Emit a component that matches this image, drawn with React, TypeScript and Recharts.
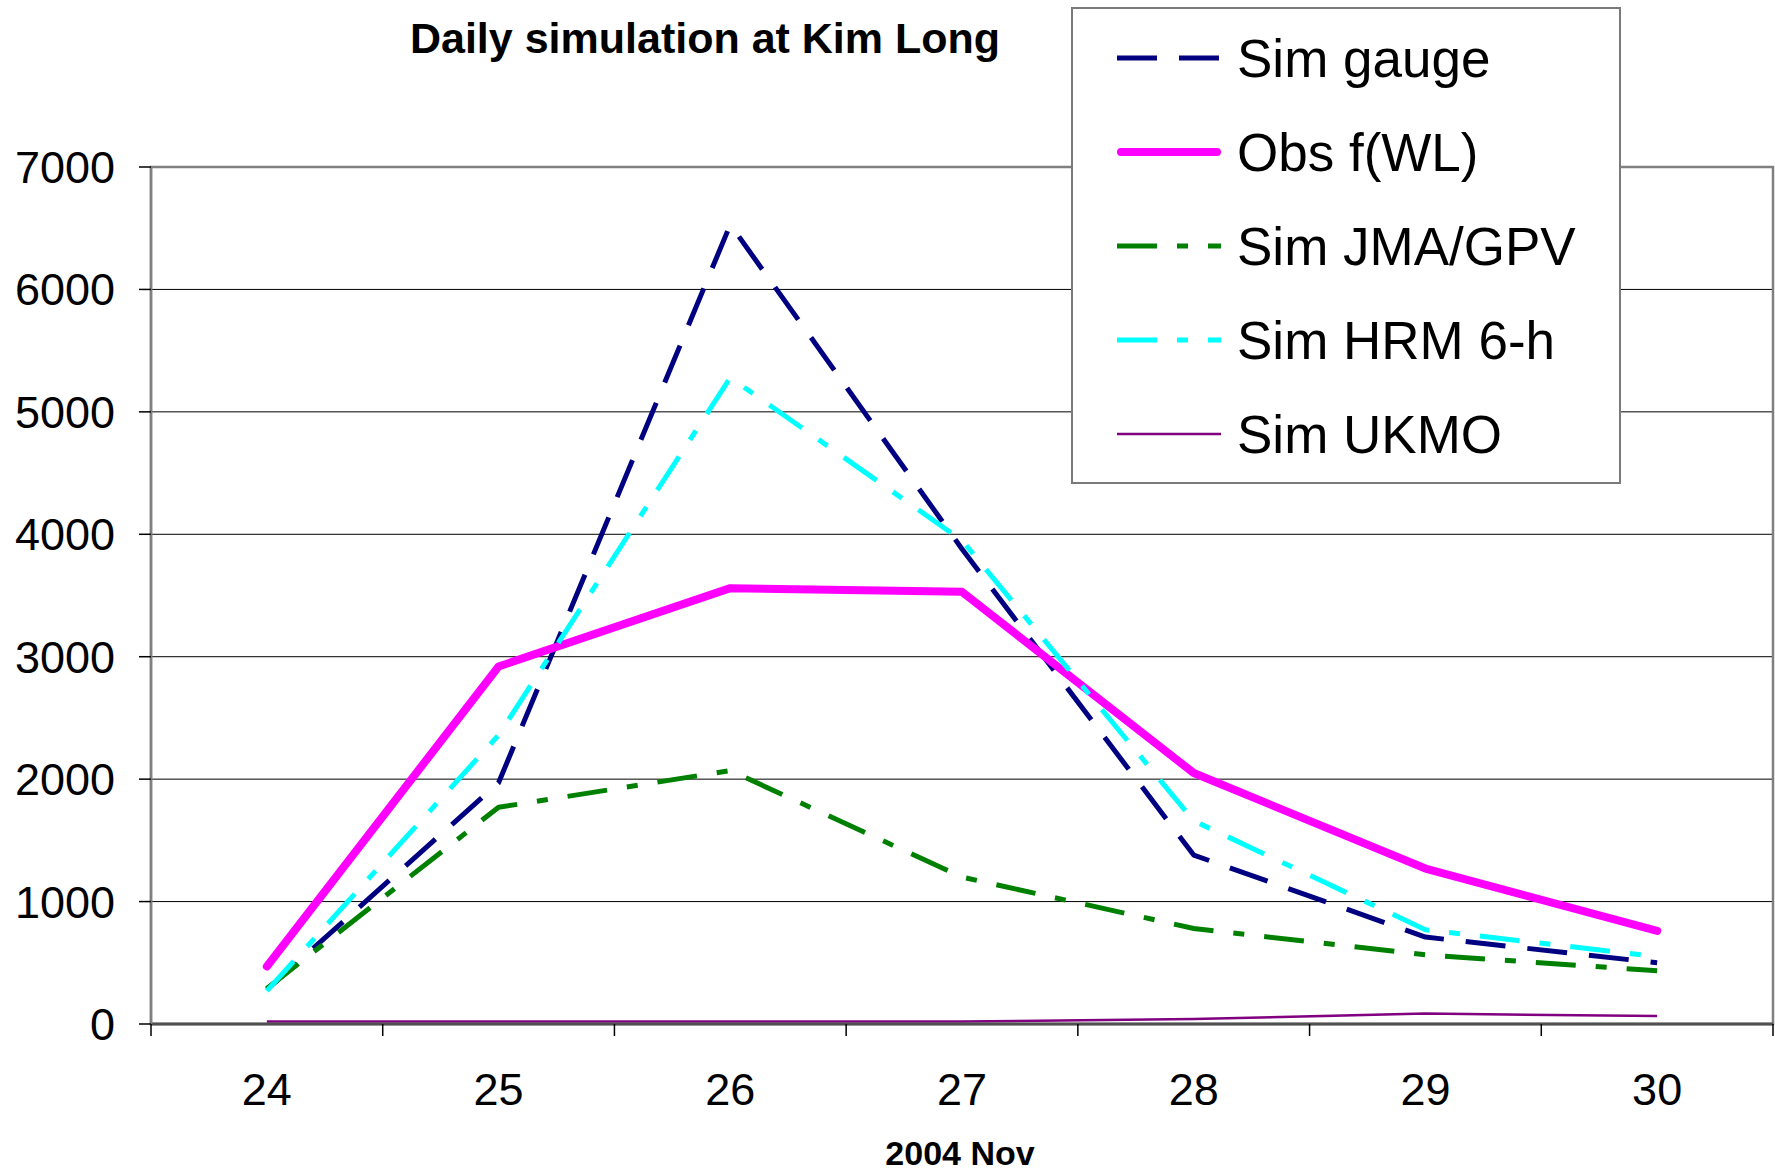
import React from 'react';
import {
  LineChart,
  Line,
  XAxis,
  YAxis,
  CartesianGrid,
  Legend,
  ReferenceArea,
} from 'recharts';

const DAYS = [24, 25, 26, 27, 28, 29, 30];
const SIM_GAUGE = [280, 1970, 6530, 3880, 1380, 710, 500];
const OBS_WL = [470, 2920, 3560, 3530, 2050, 1270, 760];
const SIM_JMA = [290, 1770, 2070, 1200, 780, 565, 435];
const SIM_HRM = [270, 2360, 5280, 3950, 1660, 770, 550];
const SIM_UKMO = [20, 20, 20, 20, 40, 85, 65];

const Y_TICKS = [0, 1000, 2000, 3000, 4000, 5000, 6000, 7000];
// day labels sit on the integers, tick marks on the half-days between them
const X_TICKS = [23.5, 24, 24.5, 25, 25.5, 26, 26.5, 27, 27.5, 28, 28.5, 29, 29.5, 30, 30.5];

const data = DAYS.map((d, i) => ({
  day: d,
  gauge: SIM_GAUGE[i],
  obs: OBS_WL[i],
  jma: SIM_JMA[i],
  hrm: SIM_HRM[i],
  ukmo: SIM_UKMO[i],
}));

const SERIES = [
  { key: 'gauge', name: 'Sim gauge', color: '#000080', width: 5, dash: '40 22' },
  { key: 'obs', name: 'Obs f(WL)', color: '#ff00ff', width: 8, dash: undefined },
  { key: 'jma', name: 'Sim JMA/GPV', color: '#008000', width: 5, dash: '40 20 11 20' },
  { key: 'hrm', name: 'Sim HRM 6-h', color: '#00ffff', width: 5, dash: '40 20 11 20' },
  { key: 'ukmo', name: 'Sim UKMO', color: '#800080', width: 2.5, dash: undefined },
];

const FONT = '"Liberation Sans", Arial, sans-serif';

const DayTick = (props: any) => {
  const { x, y, payload } = props;
  if (Number.isInteger(payload.value)) {
    return (
      <text x={x} y={y + 69} textAnchor="middle" fontSize={45} fontFamily={FONT} fill="#000">
        {payload.value}
      </text>
    );
  }
  return <line x1={x} x2={x} y1={y - 12} y2={y} stroke="#000" strokeWidth={1.5} />;
};

const LegendBox = () => (
  <div
    style={{
      width: 550,
      height: 477,
      border: '2px solid #7a7a7a',
      background: '#fff',
      boxSizing: 'border-box',
      paddingTop: 2,
      fontFamily: FONT,
    }}
  >
    {SERIES.map((s) => (
      <div key={s.key} style={{ display: 'flex', alignItems: 'center', height: 94 }}>
        <svg width={110} height={20} style={{ marginLeft: 44 }}>
          <line
            x1={s.key === 'obs' ? 4 : 0}
            x2={s.key === 'obs' ? 100 : 104}
            y1={10}
            y2={10}
            stroke={s.color}
            strokeWidth={s.width}
            strokeDasharray={s.dash}
            strokeLinecap={s.key === 'obs' ? 'round' : 'butt'}
          />
        </svg>
        <span style={{ fontSize: 53, marginLeft: 10, color: '#000', whiteSpace: 'nowrap' }}>{s.name}</span>
      </div>
    ))}
  </div>
);

export default function App() {
  return (
    <div style={{ position: 'absolute', left: 0, top: 0, width: 1775, height: 1171, background: '#fff' }}>
      <div
        style={{
          position: 'absolute',
          left: 355,
          top: 14,
          width: 700,
          textAlign: 'center',
          fontFamily: FONT,
          fontWeight: 'bold',
          fontSize: 43,
        }}
      >
        Daily simulation at Kim Long
      </div>
      <div
        style={{
          position: 'absolute',
          left: 860,
          top: 1134,
          width: 200,
          textAlign: 'center',
          fontFamily: FONT,
          fontWeight: 'bold',
          fontSize: 34,
        }}
      >
        2004 Nov
      </div>
      <LineChart width={1775} height={1171} data={data} margin={{ top: 167, right: 2, left: 0, bottom: 0 }}>
        <CartesianGrid horizontal vertical={false} stroke="#000" strokeWidth={1} />
        <ReferenceArea
          x1={23.5}
          x2={30.5}
          y1={0}
          y2={7000}
          fill="none"
          stroke="#808080"
          strokeWidth={2.5}
          ifOverflow="visible"
        />
        <XAxis
          dataKey="day"
          type="number"
          domain={[23.5, 30.5]}
          ticks={X_TICKS}
          interval={0}
          height={147}
          tickLine={false}
          tickSize={12}
          tickMargin={0}
          axisLine={{ stroke: '#505050', strokeWidth: 3 }}
          tick={<DayTick />}
        />
        <YAxis
          domain={[0, 7000]}
          ticks={Y_TICKS}
          width={151}
          tickSize={12}
          tickMargin={24}
          interval={0}
          axisLine={{ stroke: '#808080', strokeWidth: 2.5 }}
          tickLine={{ stroke: '#000', strokeWidth: 1.5 }}
          tick={{ fontSize: 45, fill: '#000', fontFamily: FONT }}
        />
        {SERIES.map((s) => (
          <Line
            key={s.key}
            dataKey={s.key}
            name={s.name}
            type="linear"
            stroke={s.color}
            strokeWidth={s.width}
            strokeDasharray={s.dash}
            strokeLinecap={s.key === 'obs' ? 'round' : 'butt'}
            strokeLinejoin="round"
            dot={false}
            activeDot={false}
            isAnimationActive={false}
          />
        ))}
        <Legend
          layout="vertical"
          align="center"
          verticalAlign="middle"
          wrapperStyle={{ position: 'absolute', left: 1071, top: 7, width: 550, height: 477 }}
          content={<LegendBox />}
        />
      </LineChart>
    </div>
  );
}
